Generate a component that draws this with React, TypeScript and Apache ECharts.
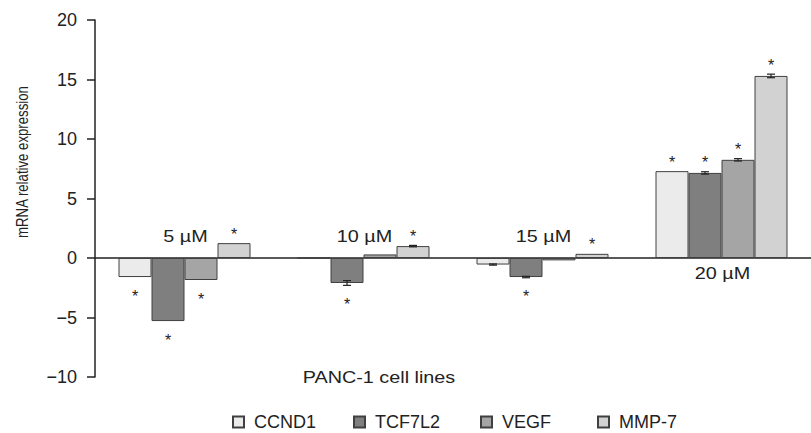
import React, { useEffect, useRef } from "react";
import * as echarts from "echarts";

const categories = ["5 µM", "10 µM", "15 µM", "20 µM"];
const labelBelow = [false, false, false, true];
const seriesNames = ["CCND1", "TCF7L2", "VEGF", "MMP-7"];
const ccnd1 = [-1.6, 0.0, -0.55, 7.3];
const tcf7l2 = [-5.3, -2.1, -1.6, 7.15];
const vegf = [-1.85, 0.3, -0.2, 8.25];
const mmp7 = [1.25, 1.0, 0.35, 15.3];
const ccnd1Err = [0.0, 0.0, 0.05, 0.0];
const tcf7l2Err = [0.0, 0.2, 0.06, 0.1];
const vegfErr = [0.0, 0.0, 0.0, 0.1];
const mmp7Err = [0.0, 0.06, 0.0, 0.15];
const ccnd1Sig = [1, 0, 0, 1];
const tcf7l2Sig = [1, 1, 1, 1];
const vegfSig = [1, 0, 0, 1];
const mmp7Sig = [1, 1, 1, 1];
const yTicks = { min: -10, max: 20, interval: 5 };

const colors = ["#ebebeb", "#7f7f7f", "#a5a5a5", "#d2d2d2"];
const legendLefts = [232, 353, 480, 597];
const FONT = "'Liberation Sans', Arial, sans-serif";
const BAR_W = 33;
const SX = 1.2;

export default function App() {
  const ref = useRef<HTMLDivElement>(null);
  useEffect(() => {
    if (!ref.current) return;
    document.body.style.margin = "0";
    const chart = echarts.init(ref.current, null, { renderer: "svg" });
    const values = [ccnd1, tcf7l2, vegf, mmp7];
    const errs = [ccnd1Err, tcf7l2Err, vegfErr, mmp7Err];
    const sigs = [ccnd1Sig, tcf7l2Sig, vegfSig, mmp7Sig];

    const barSeries = seriesNames.map((name, si) => ({
      name,
      type: "bar",
      data: values[si],
      barWidth: BAR_W,
      barGap: "0%",
      itemStyle: { color: colors[si], borderColor: "#404040", borderWidth: 1 },
      z: 2,
    }));

    const errSeries = seriesNames.map((name, si) => ({
      name: "err-" + name,
      type: "custom",
      z: 5,
      encode: { x: 0, y: 1 },
      data: values[si].map((v, i) => [i, v, errs[si][i], sigs[si][i]]),
      renderItem: (params: any, api: any) => {
        const cat = api.value(0);
        const v = api.value(1);
        const e = api.value(2);
        const s = api.value(3);
        const off = (si - 1.5) * BAR_W;
        const x = api.coord([cat, v])[0] + off;
        const yHi = api.coord([cat, v + e])[1];
        const yLo = api.coord([cat, v - e])[1];
        const children: any[] = [];
        if (e > 0) {
          const st = { stroke: "#222", lineWidth: 1.2 };
          children.push({ type: "line", shape: { x1: x, y1: yHi, x2: x, y2: yLo }, style: st });
          children.push({ type: "line", shape: { x1: x - 4, y1: yHi, x2: x + 4, y2: yHi }, style: st });
          children.push({ type: "line", shape: { x1: x - 4, y1: yLo, x2: x + 4, y2: yLo }, style: st });
        }
        if (s) {
          const y = v >= 0 ? yHi - 9 : yLo + 19;
          children.push({
            type: "text",
            x,
            y,
            style: {
              text: "*",
              fill: "#222",
              font: `16px ${FONT}`,
              textAlign: "center",
              textVerticalAlign: "middle",
            },
          });
        }
        return { type: "group", children };
      },
    }));

    const groupLabelSeries = {
      name: "groups",
      type: "custom",
      z: 6,
      encode: { x: 0, y: 1 },
      data: categories.map((c, i) => [i, 0, labelBelow[i] ? 1 : 0]),
      renderItem: (params: any, api: any) => {
        const cat = api.value(0);
        const below = api.value(2);
        const p = api.coord([cat, 0]);
        return {
          type: "text",
          x: p[0] + 1,
          y: below ? p[1] + 16 : p[1] - 21,
          scaleX: SX,
          style: {
            text: categories[cat],
            fill: "#222",
            font: `16.5px ${FONT}`,
            textAlign: "center",
            textVerticalAlign: "middle",
          },
        };
      },
    };

    const legends = seriesNames.map((name, i) => ({
      data: [name],
      left: legendLefts[i],
      top: 413,
      padding: 0,
      icon: "rect",
      itemWidth: 11,
      itemHeight: 11,
      textStyle: { fontSize: 18, color: "#222", fontFamily: FONT, padding: [0, 0, 0, 5] },
    }));

    chart.setOption({
      animation: false,
      textStyle: { fontFamily: FONT },
      grid: { left: 95, top: 20, width: 724, height: 357 },
      legend: legends,
      xAxis: {
        type: "category",
        data: categories,
        axisLine: { onZero: true, lineStyle: { color: "#222", width: 1.5 } },
        axisTick: { show: false },
        axisLabel: { show: false },
        splitLine: { show: false },
      },
      yAxis: {
        type: "value",
        min: yTicks.min,
        max: yTicks.max,
        interval: yTicks.interval,
        axisLine: { show: true, lineStyle: { color: "#222", width: 1.5 } },
        axisTick: { show: true, length: 8, lineStyle: { color: "#222", width: 1.5 } },
        axisLabel: {
          margin: 18,
          fontSize: 18,
          color: "#222",
          fontFamily: FONT,
          formatter: (v: number) => String(v).replace("-", "\u2212"),
        },
        splitLine: { show: false },
      },
      graphic: [
        {
          type: "text",
          x: 22,
          y: 162,
          rotation: Math.PI / 2,
          scaleX: 0.8,
          style: {
            text: "mRNA relative expression",
            fill: "#222",
            font: `16.5px ${FONT}`,
            textAlign: "center",
            textVerticalAlign: "middle",
          },
        },
        {
          type: "text",
          x: 379,
          y: 378,
          scaleX: SX,
          style: {
            text: "PANC-1 cell lines",
            fill: "#222",
            font: `16.5px ${FONT}`,
            textAlign: "center",
            textVerticalAlign: "middle",
          },
        },
      ],
      series: [...barSeries, ...errSeries, groupLabelSeries],
    });
    return () => chart.dispose();
  }, []);
  return <div ref={ref} style={{ width: 811, height: 433 }} />;
}
